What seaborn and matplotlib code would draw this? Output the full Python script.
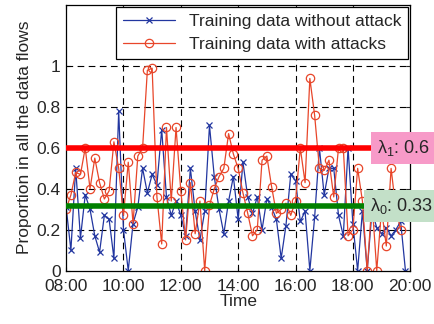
import pandas as pd
import numpy as np
import matplotlib
matplotlib.use("Agg")
import matplotlib.pyplot as plt
import matplotlib.dates as mdates
import seaborn as sns

# proportion of flows, one sample every 10 minutes from 08:00
no_attack = [0.31, 0.10, 0.50, 0.16, 0.37, 0.30, 0.17, 0.09, 0.27, 0.25, 0.06, 0.78,
             0.20, 0.00, 0.23, 0.31, 0.50, 0.38, 0.47, 0.42, 0.69, 0.36, 0.27, 0.34,
             0.27, 0.17, 0.50, 0.29, 0.15, 0.29, 0.71, 0.46, 0.30, 0.18, 0.34, 0.46,
             0.25, 0.53, 0.36, 0.28, 0.36, 0.20, 0.35, 0.31, 0.25, 0.06, 0.22, 0.47,
             0.44, 0.24, 0.29, 0.00, 0.26, 0.60, 0.37, 0.50, 0.50, 0.27, 0.17, 0.60,
             0.23, 0.00, 0.29, 0.00, 0.29, 0.21, 0.18, 0.21, 0.17, 0.20, 0.24, 0.00]
with_attack = [0.30, 0.37, 0.48, 0.47, 0.60, 0.40, 0.55, 0.43, 0.35, 0.39, 0.63, 0.50,
               0.27, 0.53, 0.23, 0.56, 0.60, 0.98, 0.99, 0.36, 0.13, 0.70, 0.34, 0.70,
               0.39, 0.15, 0.43, 0.18, 0.34, 0.00, 0.32, 0.40, 0.46, 0.50, 0.67, 0.57,
               0.50, 0.38, 0.28, 0.17, 0.20, 0.54, 0.56, 0.41, 0.28, 0.30, 0.33, 0.27,
               0.34, 0.60, 0.43, 0.94, 0.76, 0.50, 0.49, 0.54, 0.36, 0.60, 0.60, 0.17,
               0.20, 0.50, 0.34, 0.00, 0.34, 0.00, 0.30, 0.12, 0.50, 0.30, 0.20]
lambda_1 = 0.6
lambda_0 = 0.315
lambda_labels = ["0.6", "0.33"]

BLUE = "#2236a0"
RED = "#e8462a"

sns.set_style("white")
plt.rcParams["font.family"] = ["Liberation Sans", "DejaVu Sans"]
plt.rcParams["mathtext.fontset"] = "custom"
plt.rcParams["mathtext.rm"] = "Liberation Sans"
plt.rcParams["mathtext.it"] = "Liberation Sans"

day = pd.Timestamp("2015-01-01")
times = pd.date_range(day + pd.Timedelta(hours=8), periods=len(no_attack), freq="10min")
df_no = pd.DataFrame({"time": times, "value": no_attack})
df_at = pd.DataFrame({"time": times[:len(with_attack)], "value": with_attack})

fig = plt.figure(figsize=(4.35, 3.24), dpi=100)
ax = fig.add_axes([0.152, 0.165, 0.791, 0.82])

sns.lineplot(data=df_no, x="time", y="value", ax=ax, color=BLUE, lw=0.9,
             marker="x", markersize=5, markeredgecolor=BLUE, markeredgewidth=0.9,
             label="Training data without attack")
sns.lineplot(data=df_at, x="time", y="value", ax=ax, color=RED, lw=0.9,
             marker="o", markersize=6, markerfacecolor="none", markeredgecolor=RED,
             markeredgewidth=0.9, label="Training data with attacks")

t0 = day + pd.Timedelta(hours=8)
t_end = day + pd.Timedelta(hours=20)
ax.plot([t0, day + pd.Timedelta(hours=18.85)], [lambda_1, lambda_1], color="#ff0000", lw=4, zorder=4)
ax.plot([t0, day + pd.Timedelta(hours=18.6)], [lambda_0, lambda_0], color="#008000", lw=4, zorder=4)

ax.text(day + pd.Timedelta(hours=18.85), lambda_1, r"$\lambda_1$: " + lambda_labels[0],
        fontsize=13, va="center", ha="left", clip_on=False, zorder=6,
        bbox=dict(boxstyle="square,pad=0.35", fc="#f79ac8", ec="none"))
ax.text(day + pd.Timedelta(hours=18.6), lambda_0, r"$\lambda_0$: " + lambda_labels[1],
        fontsize=13, va="center", ha="left", clip_on=False, zorder=6,
        bbox=dict(boxstyle="square,pad=0.35", fc="#c3e0c8", ec="none"))

ax.set_xlim(t0, t_end)
ax.set_ylim(0, 1.3)
ax.set_yticks([0, 0.2, 0.4, 0.6, 0.8, 1.0])
ax.set_yticklabels(["0", "0.2", "0.4", "0.6", "0.8", "1"])
ax.xaxis.set_major_locator(mdates.HourLocator(byhour=range(0, 24, 2)))
ax.xaxis.set_major_formatter(mdates.DateFormatter("%H:%M"))
ax.tick_params(labelsize=12.5, direction="in", length=3, top=True, right=True,
               bottom=True, left=True)
ax.tick_params(axis="x", pad=6)
ax.tick_params(axis="y", pad=4)

# dashed grid, MATLAB style
for h in [10, 12, 14, 16, 18]:
    ax.axvline(day + pd.Timedelta(hours=h), color="black", lw=0.8, ls=(0, (6, 4)), zorder=1)
for yv in [0.2, 0.4, 0.6, 0.8, 1.0]:
    ax.axhline(yv, color="black", lw=0.8, ls=(0, (6, 4)), zorder=1)

for sp in ax.spines.values():
    sp.set_color("black")
    sp.set_linewidth(0.9)

ax.set_xlabel("Time", fontsize=12.5, labelpad=0)
ax.set_ylabel("Proportion in all the data flows", fontsize=12.5, labelpad=3)

leg = ax.legend(loc="upper right", fontsize=12.5, frameon=True, fancybox=False,
                edgecolor="black", framealpha=1, borderaxespad=0.1,
                handlelength=3.0, borderpad=0.4, labelspacing=0.45)
leg.get_frame().set_linewidth(0.9)
leg.set_zorder(7)

fig.savefig("out.png", dpi=100)
